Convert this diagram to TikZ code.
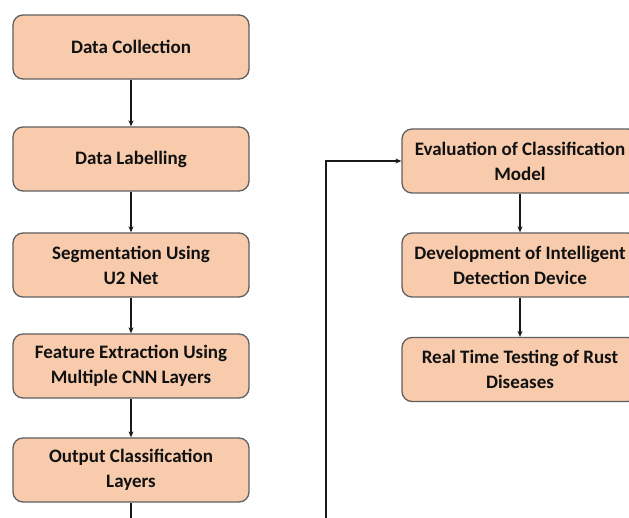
\documentclass[tikz,border=0pt]{standalone}
\usepackage{fontspec}
\setmainfont{Carlito}
\usetikzlibrary{arrows.meta}
\definecolor{boxfill}{HTML}{F8CBAD}
\definecolor{boxline}{HTML}{5F5F5F}
\definecolor{txt}{HTML}{111111}
\tikzset{
  procbox/.style={draw=boxline, line width=1.3pt, fill=boxfill, rounded corners=10pt,
    minimum width=236pt, minimum height=64pt, align=center, inner sep=0pt,
    font=\fontsize{19}{25}\selectfont\bfseries, text=txt},
  flow/.style={draw=black!90, line width=1.1pt, -{Stealth[length=6pt,width=5pt]}}
}
\begin{document}
\begin{tikzpicture}[x=1pt,y=-1pt]
\useasboundingbox (0,0) rectangle (629,518);
\clip (0,0) rectangle (629,518);
\fill[white] (0,0) rectangle (629,518);
\node[procbox] (dc) at (131,47) {Data Collection};
\node[procbox] (dl) at (131,159) {Data Labelling};
\node[procbox] (seg) at (131,265) {Segmentation Using\\U2 Net};
\node[procbox] (fe) at (131,366) {Feature Extraction Using\\Multiple CNN Layers};
\node[procbox] (oc) at (131,470) {Output Classification\\Layers};
\node[procbox] (ev) at (520,161) {Evaluation of Classification\\Model};
\node[procbox] (dev) at (520,265) {Development of Intelligent\\Detection Device};
\node[procbox] (rt) at (520,369.5) {Real Time Testing of Rust\\Diseases};
\coordinate (b1) at (131,540);
\coordinate (b2) at (326,540);
\coordinate (t2) at (326,161);
\draw[flow] (dc) -- (dl);
\draw[flow] (dl) -- (seg);
\draw[flow] (seg) -- (fe);
\draw[flow] (fe) -- (oc);
\draw[flow] (ev) -- (dev);
\draw[flow] (dev) -- (rt);
\draw[flow] (oc.south) -- (b1) -- (b2) -- (t2) -- (ev.west);
\end{tikzpicture}
\end{document}
